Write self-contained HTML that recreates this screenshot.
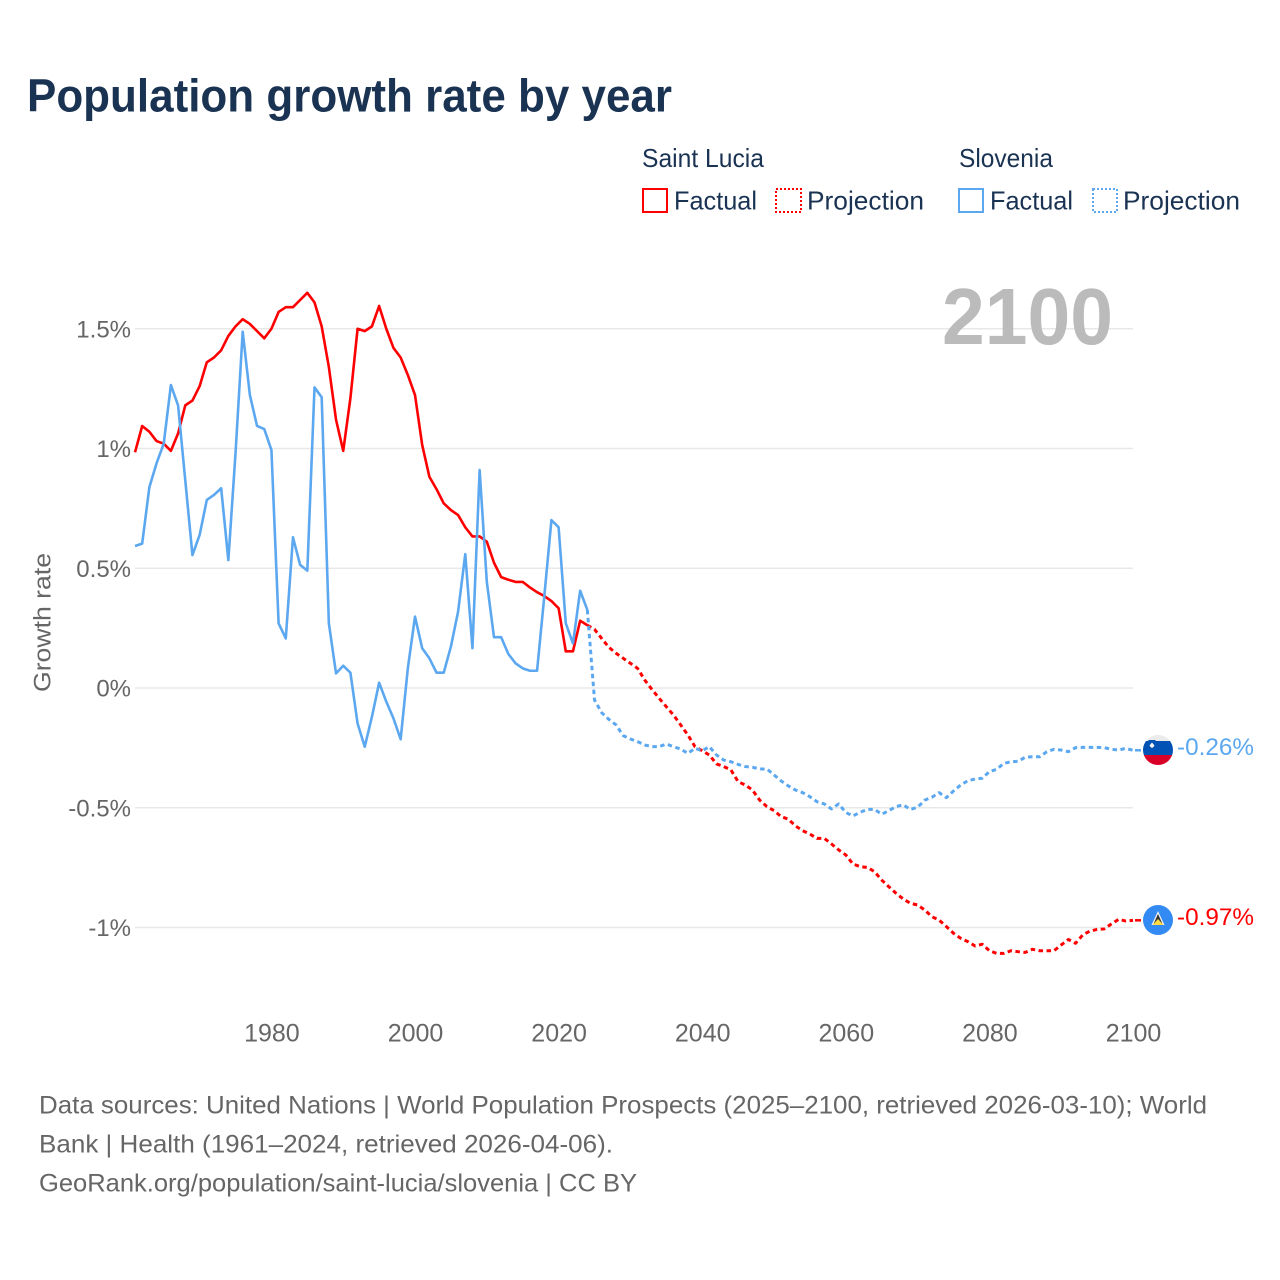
<!DOCTYPE html>
<html lang="en">
<head>
<meta charset="utf-8">
<title>Population growth rate by year</title>
<style>
html,body{margin:0;padding:0;background:#fff;}
svg{display:block;font-family:"Liberation Sans",sans-serif;}
</style>
</head>
<body>
<svg id="chart" xmlns="http://www.w3.org/2000/svg" width="1280" height="1280" viewBox="0 0 1280 1280">
  <rect x="0" y="0" width="1280" height="1280" fill="#fff"/>
  <text x="27" y="111.500" font-size="46" font-weight="700" fill="#1a3353" textLength="645" lengthAdjust="spacingAndGlyphs">Population growth rate by year</text>

  <g font-size="26" fill="#1a3353">
    <text x="642" y="167" textLength="122" lengthAdjust="spacingAndGlyphs">Saint Lucia</text>
    <text x="959" y="167" textLength="94" lengthAdjust="spacingAndGlyphs">Slovenia</text>
    <rect x="643" y="189" width="24" height="23" fill="none" stroke="#ff0000" stroke-width="2"/>
    <text x="674" y="209.500" textLength="83" lengthAdjust="spacingAndGlyphs">Factual</text>
    <rect x="776" y="189" width="25" height="23" fill="none" stroke="#ff0000" stroke-width="2" stroke-dasharray="2 2"/>
    <text x="807" y="209.500" textLength="117" lengthAdjust="spacingAndGlyphs">Projection</text>
    <rect x="959" y="189" width="24" height="23" fill="none" stroke="#5ca8f0" stroke-width="2"/>
    <text x="990" y="209.500" textLength="83" lengthAdjust="spacingAndGlyphs">Factual</text>
    <rect x="1093" y="189" width="24" height="23" fill="none" stroke="#5ca8f0" stroke-width="2" stroke-dasharray="2 2"/>
    <text x="1123" y="209.500" textLength="117" lengthAdjust="spacingAndGlyphs">Projection</text>
  </g>

  <g id="grid"></g>
  <g id="y-axis" font-size="24" fill="#666"></g>
  <g id="x-axis" font-size="25" fill="#666"></g>
  <text transform="translate(50.500,692) rotate(-90)" x="0" y="0" font-size="24.500" fill="#666" textLength="139" lengthAdjust="spacingAndGlyphs">Growth rate</text>
  <text x="942" y="344" font-size="80" font-weight="700" fill="#bbbbbb" textLength="171" lengthAdjust="spacingAndGlyphs">2100</text>

  <g id="series"></g>

  <g>
    <clipPath id="clip-si"><circle cx="1158" cy="750" r="15"/></clipPath>
    <g clip-path="url(#clip-si)">
      <rect x="1143" y="735" width="30" height="7" fill="#ebebeb"/>
      <rect x="1143" y="741" width="30" height="14" fill="#0052b4"/>
      <rect x="1143" y="755" width="30" height="10" fill="#d80027"/>
      <path d="M1148.500 740h7v5.500q-.5 2.500-3.500 3.500q-3-1-3.500-3.500z" fill="#0052b4"/>
      <path d="M1149.500 745.500l2.500-3 2.500 3q-1 2-2.500 2.500q-1.500-.5-2.500-2.500z" fill="#f4f4f4"/>
    </g>
  </g>
  <g>
    <circle cx="1158" cy="920" r="15" fill="#338af3"/>
    <path d="M1158 911l6.500 14h-13z" fill="#f0f0f0"/>
    <path d="M1158 914l4.500 10h-9z" fill="#333"/>
    <path d="M1158 919l5.500 6h-11z" fill="#ffda44"/>
  </g>
  <text id="end-label-slovenia" x="1177" y="755" font-size="24.300" fill="#5ca8f0">-0.26%</text>
  <text id="end-label-saint-lucia" x="1177" y="925" font-size="24.300" fill="#ff0000">-0.97%</text>

  <g font-size="25" fill="#666">
    <text x="39" y="1113.500" textLength="1168" lengthAdjust="spacingAndGlyphs">Data sources: United Nations | World Population Prospects (2025–2100, retrieved 2026-03-10); World</text>
    <text x="39" y="1152.500" textLength="574" lengthAdjust="spacingAndGlyphs">Bank | Health (1961–2024, retrieved 2026-04-06).</text>
    <text x="39" y="1191.500" textLength="598" lengthAdjust="spacingAndGlyphs">GeoRank.org/population/saint-lucia/slovenia | CC BY</text>
  </g>
</svg>
<script>
var factualStartYear = 1961;
var projectionStartYear = 2024;
var xTickYears = [1980, 2000, 2020, 2040, 2060, 2080, 2100];
var yTickValues = [1.5, 1, 0.5, 0, -0.5, -1];
var yTickLabels = ["1.5%", "1%", "0.5%", "0%", "-0.5%", "-1%"];

var saintLuciaFactual = [.984,1.094,1.07,1.031,1.02,.99,1.063,1.18,1.2,1.26,1.36,1.38,1.41,1.47,1.51,1.54,1.52,1.49,1.46,1.5,1.57,1.59,1.59,1.62,1.65,1.61,1.51,1.34,1.12,.99,1.21,1.5,1.49,1.51,1.595,1.5,1.42,1.38,1.307,1.223,1.015,.882,.83,.771,.743,.722,.671,.633,.633,.611,.523,.463,.452,.443,.443,.42,.4,.384,.363,.333,.153,.153,.281,.262];
var sloveniaFactual = [.593,.603,.838,.938,1.02,1.265,1.18,.868,.555,.639,.785,.806,.834,.534,.98,1.488,1.223,1.094,1.081,.994,.27,.207,.629,.514,.49,1.255,1.214,.27,.061,.093,.064,-.148,-.245,-.12,.022,-.057,-.127,-.214,.082,.298,.166,.124,.064,.064,.173,.319,.559,.166,.91,.444,.212,.212,.142,.103,.082,.072,.072,.381,.701,.671,.27,.186,.406,.326];
var saintLuciaProjection = [.262,.245,.207,.17,.145,.124,.103,.082,.033,-.006,-.043,-.078,-.113,-.154,-.196,-.245,-.262,-.28,-.317,-.328,-.342,-.391,-.405,-.426,-.468,-.495,-.512,-.537,-.548,-.576,-.596,-.61,-.628,-.628,-.651,-.676,-.697,-.735,-.746,-.749,-.767,-.802,-.83,-.857,-.881,-.899,-.906,-.927,-.955,-.969,-.996,-1.024,-1.045,-1.059,-1.077,-1.07,-1.097,-1.108,-1.108,-1.097,-1.101,-1.104,-1.091,-1.097,-1.097,-1.097,-1.073,-1.05,-1.066,-1.031,-1.015,-1.008,-1.006,-.985,-.966,-.973,-.97];
var sloveniaProjection = [.326,-.05,-.103,-.131,-.154,-.199,-.213,-.224,-.238,-.245,-.245,-.234,-.245,-.255,-.273,-.252,-.262,-.245,-.28,-.301,-.308,-.319,-.328,-.331,-.338,-.338,-.363,-.388,-.409,-.426,-.437,-.454,-.475,-.484,-.505,-.484,-.52,-.534,-.519,-.507,-.507,-.527,-.512,-.495,-.488,-.507,-.498,-.468,-.456,-.437,-.458,-.43,-.405,-.387,-.38,-.377,-.349,-.34,-.315,-.308,-.306,-.289,-.287,-.287,-.266,-.256,-.259,-.266,-.249,-.248,-.248,-.248,-.249,-.256,-.259,-.252,-.26];

var SVG_NS = "http://www.w3.org/2000/svg";
var plotLeft = 135, plotRight = 1133, zeroY = 688, pxPerPercent = 239.5;
function xScale(year) { return plotLeft + (year - 1961) * (plotRight - plotLeft) / (2100 - 1961); }
function yScale(value) { return zeroY - value * pxPerPercent; }
function linePath(values, startYear) {
  var d = "";
  for (var i = 0; i < values.length; i++) {
    d += (i ? "L" : "M") + xScale(startYear + i).toFixed(2) + " " + yScale(values[i]).toFixed(2);
  }
  return d;
}

var gridGroup = document.getElementById("grid");
var yAxisGroup = document.getElementById("y-axis");
var xAxisGroup = document.getElementById("x-axis");
var seriesGroup = document.getElementById("series");

yTickValues.forEach(function (v, i) {
  var ln = document.createElementNS(SVG_NS, "line");
  
  
  ln.setAttribute("x1", plotLeft);
  ln.setAttribute("x2", plotRight);
  ln.setAttribute("y1", yScale(v));
  ln.setAttribute("y2", yScale(v));
  ln.setAttribute("stroke", "#e8e8e8");
  ln.setAttribute("stroke-width", "1.5");
  gridGroup.appendChild(ln);
  var t = document.createElementNS(SVG_NS, "text");
  
  
  t.setAttribute("x", 131);
  t.setAttribute("y", yScale(v) + 8.5);
  t.setAttribute("text-anchor", "end");
  t.textContent = yTickLabels[i];
  yAxisGroup.appendChild(t);
});

xTickYears.forEach(function (year) {
  var t = document.createElementNS(SVG_NS, "text");
  
  
  t.setAttribute("x", xScale(year) + 0.5);
  t.setAttribute("y", 1041.5);
  t.setAttribute("text-anchor", "middle");
  t.textContent = String(year);
  xAxisGroup.appendChild(t);
});

function addLine(name, values, startYear, color, dashed) {
  var p = document.createElementNS(SVG_NS, "path");
  
  
  p.setAttribute("d", linePath(values, startYear));
  p.setAttribute("fill", "none");
  p.setAttribute("stroke", color);
  p.setAttribute("stroke-width", dashed ? "3" : "2.600");
  p.setAttribute("stroke-linejoin", "round");
  if (dashed) { p.setAttribute("stroke-dasharray", "4.500 3.500"); }
  seriesGroup.appendChild(p);
}
addLine("saint-lucia-projection-line", saintLuciaProjection, projectionStartYear, "#ff0000", true);
addLine("slovenia-projection-line", sloveniaProjection, projectionStartYear, "#5ca8f0", true);
addLine("saint-lucia-factual-line", saintLuciaFactual, factualStartYear, "#ff0000", false);
addLine("slovenia-factual-line", sloveniaFactual, factualStartYear, "#5ca8f0", false);

function addLeader(name, value, color) {
  var ln = document.createElementNS(SVG_NS, "line");
  
  
  ln.setAttribute("x1", plotRight + 2);
  ln.setAttribute("x2", 1141);
  ln.setAttribute("y1", yScale(value));
  ln.setAttribute("y2", yScale(value));
  ln.setAttribute("stroke", color);
  ln.setAttribute("stroke-width", "2.500");
  seriesGroup.appendChild(ln);
}
addLeader("slovenia-end-leader", sloveniaProjection[sloveniaProjection.length - 1], "#5ca8f0");
addLeader("saint-lucia-end-leader", saintLuciaProjection[saintLuciaProjection.length - 1], "#ff0000");
</script>
</body>
</html>
